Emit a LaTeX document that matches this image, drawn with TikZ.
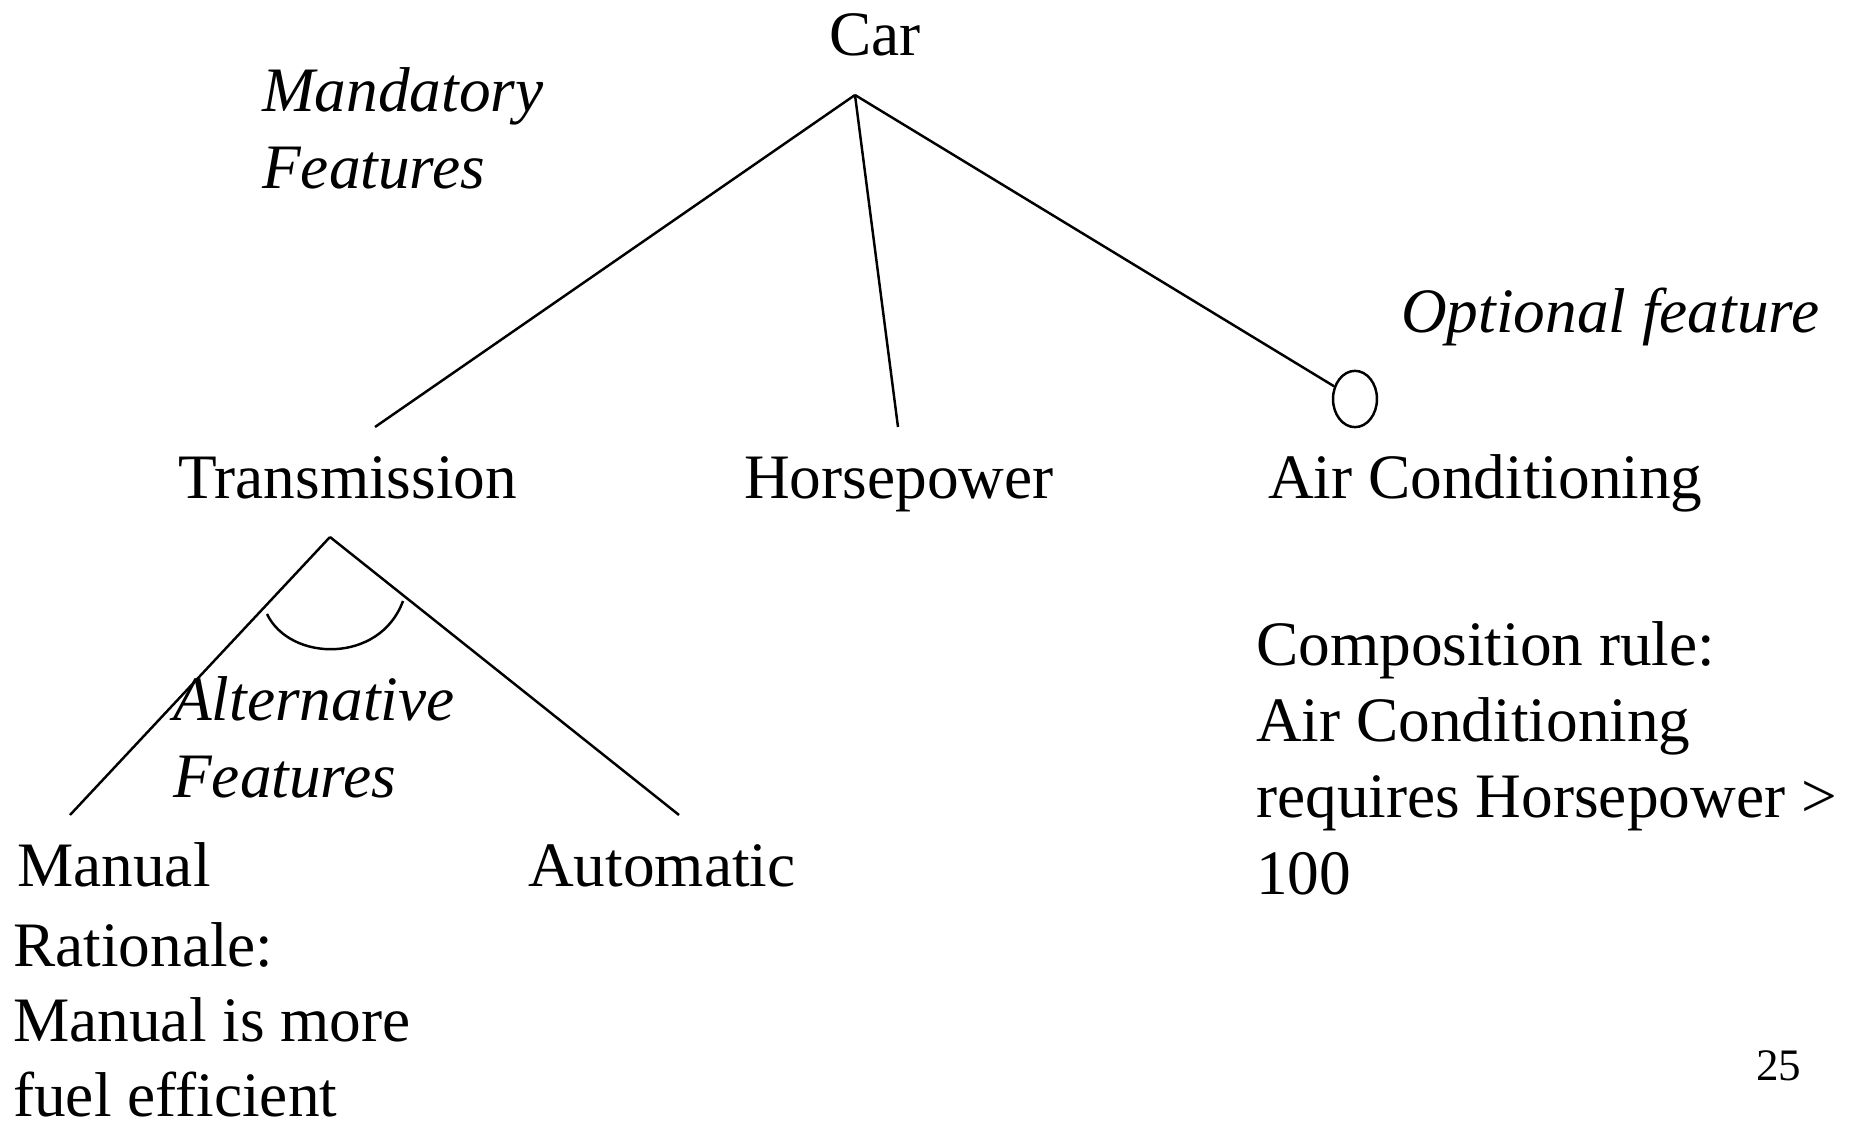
\documentclass[tikz,border=0pt]{standalone}
\usepackage{fontspec}
\setmainfont{Liberation Serif}
\usetikzlibrary{shapes.geometric}

\begin{document}
\begin{tikzpicture}[x=0.01cm, y=-0.01cm, line width=0.7pt,
    lbl/.style={font=\fontsize{18}{21.7}\selectfont, inner sep=0pt,
      anchor=base west, align=left},
    note/.style={lbl, font=\fontsize{18}{21.7}\selectfont\itshape}]
    \useasboundingbox (0,0) rectangle (1862,1124);
    % feature names
    \node[lbl, anchor=base] (car) at (875,55) {Car};
    \node[lbl] (trans)  at (177,498)  {Transmission};
    \node[lbl] (horse)  at (743,498)  {Horsepower};
    \node[lbl] (aircon) at (1267,498) {Air Conditioning};
    \node[lbl] (manual) at (16,886)   {Manual};
    \node[lbl] (auto)   at (527,886)  {Automatic};
    % main coordinates
    \coordinate (car-top)    at (855,95) ;
    \coordinate (trans-top)  at (375,427);
    \coordinate (horse-top)  at (898,427);
    \coordinate (trans-bot)  at (330,537);
    \coordinate (manual-top) at (70,815) ;
    \coordinate (auto-top)   at (679,815);
    % optional marker
    \node[draw, ellipse, inner sep=0pt, minimum width=12.5pt,
      minimum height=16pt] (opt) at (1355,399) {};
    % draw feature lines
    \draw (car-top) -- (trans-top);
    \draw (car-top) -- (horse-top);
    \draw (car-top) -- (opt);
    \draw (trans-bot) -- (manual-top);
    \draw (trans-bot) -- (auto-top);
    % alternative arc
    \draw (267,614) .. controls (290,662) and (380,664) .. (403,601);
    % annotations (anchored at last baseline)
    \node[note] (mand) at (261,188)  {Mandatory\\Features};
    \node[note] (optf) at (1400,332) {Optional feature};
    \node[note] (alt)  at (172,797)  {Alternative\\Features};
    \node[lbl, font=\fontsize{18}{21.2}\selectfont] (why) at (12,1116)
    {Rationale:\\Manual is more\\fuel efficient};
    \node[lbl] (rule)  at (1255,894)
    {Composition rule:\\Air Conditioning\\requires Horsepower >\\100};
    \node[lbl, font=\fontsize{12.8}{15}\selectfont] (page) at (1755,1080) {25};
\end{tikzpicture}
\end{document}
